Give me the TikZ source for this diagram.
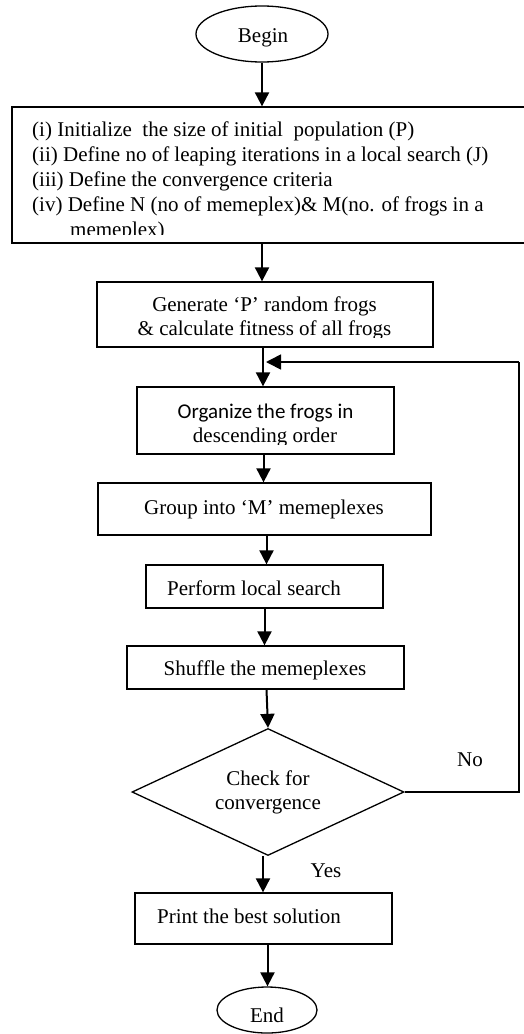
\documentclass[tikz,border=0pt]{standalone}
\usepackage{fontspec}
\setmainfont{Liberation Serif}
\newfontfamily\calib{Carlito}
\usetikzlibrary{arrows.meta,shapes.geometric}
\begin{document}
\begin{tikzpicture}[x=1pt,y=-1pt,
  box/.style={draw,line width=1.3pt,inner sep=0pt,rectangle},
  txt/.style={inner sep=0pt,anchor=base,font=\fontsize{21}{24}\selectfont},
  txtl/.style={inner sep=0pt,anchor=base west,font=\fontsize{21}{24}\selectfont},
  arr/.style={line width=2pt,-{Triangle[length=14pt,width=14pt]}},
  loopline/.style={line width=1.6pt}]
\useasboundingbox (0,0) rectangle (523,1034);
% shapes
\node[draw,ellipse,line width=1.3pt,minimum width=132pt,minimum height=56pt,inner sep=0pt] (begin) at (262,34) {};
\node[box,minimum width=514pt,minimum height=136pt] (init) at (269,175) {};
\node[box,minimum width=336pt,minimum height=65pt] (gen) at (265,314.5) {};
\node[box,minimum width=257pt,minimum height=67pt] (org) at (265.5,420.5) {};
\node[box,minimum width=333pt,minimum height=52pt] (grp) at (264.5,509) {};
\node[box,minimum width=237pt,minimum height=43pt] (perf) at (264.5,586.5) {};
\node[box,minimum width=277pt,minimum height=43pt] (shuf) at (265.5,667.5) {};
\node[draw,diamond,line width=1.3pt,minimum width=272pt,minimum height=127pt,inner sep=0pt] (chk) at (268,792) {};
\node[box,minimum width=257pt,minimum height=51pt] (prt) at (263.5,918.5) {};
\node[draw,ellipse,line width=1.3pt,minimum width=100pt,minimum height=46pt,inner sep=0pt] (end) at (267,1010) {};
% texts
\node[txt] (tbegin) at (263,42) {Begin};
\begin{scope}
\clip (13,108) rectangle (524,234);
\node[txtl] (t1) at (32,136) {(i) Initialize\ \ the size of initial\ \ population (P)};
\node[txtl] (t2) at (32,161) {(ii) Define no of leaping iterations in a local search (J)};
\node[txtl] (t3) at (32,186) {(iii) Define the convergence criteria};
\node[txtl] (t4) at (32,211) {(iv) Define N (no of memeplex)\& M(no. of frogs in a};
\node[txtl] (t5) at (70,236) {memeplex)};
\end{scope}
\begin{scope}
\clip (98,283) rectangle (432,337);
\node[txt] (g1) at (264.5,311) {Generate ‘P’ random frogs};
\node[txt] (g2) at (264.5,335) {\& calculate fitness of all frogs};
\end{scope}
\begin{scope}
\clip (138,388) rectangle (393,444);
\node[txt,font=\calib\fontsize{21}{24}\selectfont] (o1) at (265.5,418) {Organize the frogs in};
\node[txt] (o2) at (265,442) {descending order};
\end{scope}
\node[txt] (tg) at (264,514) {Group into ‘M’ memeplexes};
\node[txt] (tp) at (254,595) {Perform local search};
\node[txt] (ts) at (265,675) {Shuffle the memeplexes};
\node[txt] (c1) at (268,785) {Check for};
\node[txt] (c2) at (268,809) {convergence};
\node[txt] (tno) at (470,766) {No};
\node[txt] (tyes) at (326,877) {Yes};
\node[txt] (tprt) at (249,923) {Print the best solution};
\node[txt] (tend) at (267,1022) {End};
% connectors
\draw[arr] (begin.south) -- (begin.south |- init.north);
\draw[arr] (init.south -| begin.south) -- (gen.north -| begin.south);
\draw[arr] ([xshift=-2pt]gen.south) -- ([xshift=-2pt]gen.south |- org.north);
\draw[arr] ([xshift=-2pt]org.south) -- ([xshift=-2pt]org.south |- grp.north);
\draw[arr] ([xshift=2pt]grp.south) -- ([xshift=2pt]grp.south |- perf.north);
\draw[arr] (perf.south) -- (perf.south |- shuf.north);
\draw[arr] ([xshift=1pt]shuf.south) -- (chk.north);
\draw[arr] ([xshift=-5pt]chk.south) -- ([xshift=-5pt]chk.south |- prt.north);
\draw[arr] ([xshift=4pt]prt.south) -- ([xshift=4pt]prt.south |- end.north);
\coordinate (loopR) at (519,792);
\coordinate (loopT) at (519,362);
\draw[loopline] (chk.east) -- (loopR) -- (loopT);
\draw[loopline,-{Triangle[length=15pt,width=15pt]}] (loopT) -- ([xshift=1pt]gen.south |- loopT);
\end{tikzpicture}
\end{document}
